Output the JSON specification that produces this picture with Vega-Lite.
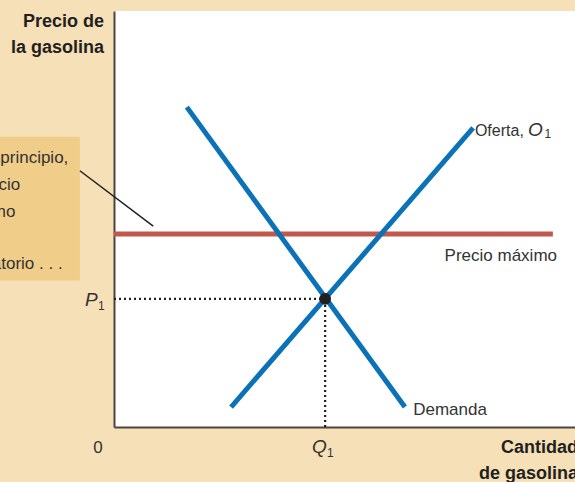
{
  "$schema": "https://vega.github.io/schema/vega-lite/v6.json",
  "autosize": {"type": "none"},
  "width": 461,
  "height": 416,
  "padding": {"left": 114, "top": 11, "right": 0, "bottom": 55},
  "background": "#f5e0b7",
  "config": {
    "view": {"fill": "white", "stroke": null},
    "axis": {"labels": false, "ticks": false, "grid": false, "domainColor": "#4a4540", "domainWidth": 2}
  },
  "datasets": {
    "box": [{"x": -30, "y": 35.2, "x2": -7.4, "y2": 69.8}],
    "leader": [{"x": -7.4, "y": 61.6, "x2": 8.5, "y2": 48.3}],
    "ceiling": [{"x": 0, "y": 46.4, "x2": 95.2, "y2": 46.4}],
    "curves": [
      {"curve": "Demanda", "x": 15.8, "y": 76.9},
      {"curve": "Demanda", "x": 63.1, "y": 4.8},
      {"curve": "Oferta", "x": 25.4, "y": 4.8},
      {"curve": "Oferta", "x": 77.9, "y": 71.9}
    ],
    "dotted": [
      {"x": 0, "y": 30.8, "x2": 45.8, "y2": 30.8},
      {"x": 45.8, "y": 0, "x2": 45.8, "y2": 30.8}
    ],
    "eq": [{"x": 45.8, "y": 30.8}],
    "labelsLeft": [
      {"x": 64.9, "y": 2.9, "label": "Demanda"}
    ],
    "labelsRight": [
      {"x": 96.1, "y": 39.9, "label": "Precio máximo"}
    ],
    "oferta": [
      {"x": 88.9, "y": 70.0, "label": "Oferta,"}
    ],
    "zero": [{"x": -3.5, "y": -6.25, "label": "0"}],
    "note": [
      {"x": -34.3, "y": 63.4, "label": "1. En principio,"},
      {"x": -34.3, "y": 56.97, "label": "el precio"},
      {"x": -34.3, "y": 50.48, "label": "máximo"},
      {"x": -34.3, "y": 44.1, "label": "no es"},
      {"x": -34.3, "y": 37.9, "label": "obligatorio . . ."}
    ],
    "italic": [
      {"x": 42.95, "y": -6.25, "label": "Q"},
      {"x": -6.3, "y": 29.2, "label": "P"},
      {"x": 89.8, "y": 70.0, "label": "O"}
    ],
    "subs": [
      {"x": 46.2, "y": -7.1, "label": "1"},
      {"x": -3.47, "y": 28.1, "label": "1"},
      {"x": 93.4, "y": 69.5, "label": "1"}
    ],
    "bold": [
      {"x": -2.17, "y": 96.15, "label": "Precio de"},
      {"x": -2.17, "y": 89.9, "label": "la gasolina"},
      {"x": 100.65, "y": -6.25, "label": "Cantidad"},
      {"x": 100.65, "y": -12.5, "label": "de gasolina"}
    ]
  },
  "encoding": {
    "x": {"field": "x", "type": "quantitative", "scale": {"domain": [0, 100], "nice": false, "zero": false}, "axis": {"title": null}},
    "y": {"field": "y", "type": "quantitative", "scale": {"domain": [0, 100], "nice": false, "zero": false}, "axis": {"title": null}}
  },
  "layer": [
    {"data": {"name": "box"}, "mark": {"type": "rect", "color": "#f0cd89"}, "encoding": {"x2": {"field": "x2"}, "y2": {"field": "y2"}}},
    {"data": {"name": "leader"}, "mark": {"type": "rule", "color": "#231f20", "strokeWidth": 1.5}, "encoding": {"x2": {"field": "x2"}, "y2": {"field": "y2"}}},
    {"data": {"name": "ceiling"}, "mark": {"type": "rule", "color": "#c0584b", "strokeWidth": 5, "strokeCap": "butt"}, "encoding": {"x2": {"field": "x2"}, "y2": {"field": "y2"}}},
    {"data": {"name": "dotted"}, "mark": {"type": "rule", "color": "#231f20", "strokeWidth": 2.2, "strokeDash": [2, 3]}, "encoding": {"x2": {"field": "x2"}, "y2": {"field": "y2"}}},
    {"data": {"name": "curves"}, "mark": {"type": "line", "color": "#0b72b8", "strokeWidth": 5, "strokeCap": "butt"}, "encoding": {"detail": {"field": "curve"}}},
    {"data": {"name": "eq"}, "mark": {"type": "point", "filled": true, "color": "#231f20", "size": 140, "opacity": 1}},
    {"data": {"name": "labelsLeft"}, "mark": {"type": "text", "align": "left", "baseline": "alphabetic", "font": "Liberation Sans", "fontSize": 17, "color": "#333333"}, "encoding": {"text": {"field": "label"}}},
    {"data": {"name": "labelsRight"}, "mark": {"type": "text", "align": "right", "baseline": "alphabetic", "font": "Liberation Sans", "fontSize": 17, "color": "#333333"}, "encoding": {"text": {"field": "label"}}},
    {"data": {"name": "oferta"}, "mark": {"type": "text", "align": "right", "baseline": "alphabetic", "font": "Liberation Sans", "fontSize": 16, "color": "#333333"}, "encoding": {"text": {"field": "label"}}},
    {"data": {"name": "zero"}, "mark": {"type": "text", "align": "center", "baseline": "alphabetic", "font": "Liberation Sans", "fontSize": 17, "color": "#333333"}, "encoding": {"text": {"field": "label"}}},
    {"data": {"name": "note"}, "mark": {"type": "text", "align": "left", "baseline": "alphabetic", "font": "Liberation Sans", "fontSize": 17, "color": "#333333"}, "encoding": {"text": {"field": "label"}}},
    {"data": {"name": "italic"}, "mark": {"type": "text", "align": "left", "baseline": "alphabetic", "font": "Liberation Sans", "fontStyle": "italic", "fontSize": 19, "color": "#333333"}, "encoding": {"text": {"field": "label"}}},
    {"data": {"name": "subs"}, "mark": {"type": "text", "align": "left", "baseline": "alphabetic", "font": "Liberation Sans", "fontSize": 12, "color": "#333333"}, "encoding": {"text": {"field": "label"}}},
    {"data": {"name": "bold"}, "mark": {"type": "text", "align": "right", "baseline": "alphabetic", "font": "Liberation Sans", "fontWeight": "bold", "fontSize": 18, "color": "#231f20"}, "encoding": {"text": {"field": "label"}}}
  ]
}
